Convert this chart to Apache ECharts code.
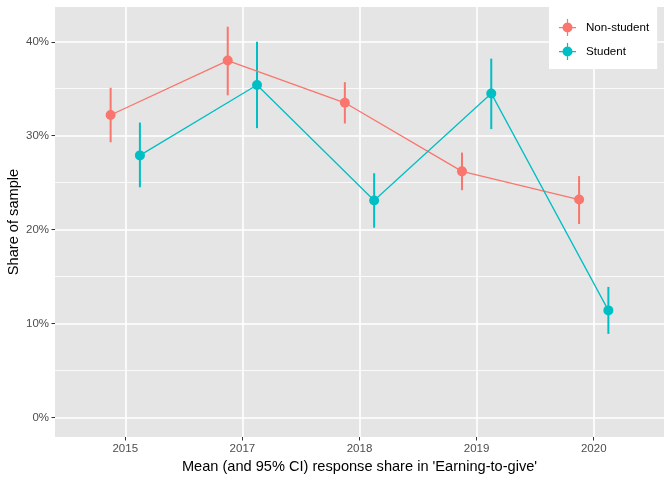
<!DOCTYPE html>
<html>
<head>
<meta charset="utf-8">
<script src="https://cdn.jsdelivr.net/npm/echarts@6/dist/echarts.min.js"></script>
<style>html,body{margin:0;padding:0;background:#fff}#c{width:672px;height:480px}</style>
</head>
<body>
<div id="c"></div>
<script>
const categories = ['2015', '2017', '2018', '2019', '2020'];
const nonStudentMean = [0.322, 0.380, 0.335, 0.262, 0.232];
const nonStudentLow  = [0.293, 0.343, 0.313, 0.242, 0.206];
const nonStudentHigh = [0.351, 0.416, 0.357, 0.282, 0.257];
const studentMean = [0.279, 0.354, 0.231, 0.345, 0.114];
const studentLow  = [0.245, 0.308, 0.202, 0.307, 0.089];
const studentHigh = [0.314, 0.400, 0.260, 0.382, 0.139];
const yMajor = [0, 0.1, 0.2, 0.3, 0.4];
const yMinor = [0.05, 0.15, 0.25, 0.35];

const FONT = 'Liberation Sans, Arial, Helvetica, sans-serif';
const RED = '#F8766D', TEAL = '#00BFC4';
const DODGE = 0.125;
const catIdx = categories.map((c, i) => i);

function pts(means, off) { return means.map((v, i) => [i + off, v]); }
function bars(lo, hi, off) { return lo.map((v, i) => [i + off, v, hi[i]]); }
function errRender(color) {
  return function (params, api) {
    const x = api.value(0);
    const a = api.coord([x, api.value(1)]);
    const b = api.coord([x, api.value(2)]);
    return { type: 'line', shape: { x1: a[0], y1: a[1], x2: b[0], y2: b[1] },
             style: { stroke: color, lineWidth: 2 } };
  };
}
const icon = 'path://M0,16 L34,16 L34,18.4 L0,18.4 Z M15.8,0 L18.2,0 L18.2,34 L15.8,34 Z M17,7 A10,10 0 1 1 16.99,7 Z';

const chart = echarts.init(document.getElementById('c'), null, { renderer: 'canvas' });
chart.setOption({
  animation: false,
  backgroundColor: '#ffffff',
  textStyle: { fontFamily: FONT },
  grid: { left: 55, right: 8, top: 7, bottom: 43, show: true, backgroundColor: '#E5E5E5', borderWidth: 0,
          containLabel: false, outerBoundsMode: 'none' },
  legend: {
    orient: 'vertical', left: 549, top: 7,
    backgroundColor: '#ffffff', padding: [12, 8, 9, 10],
    itemWidth: 17, itemHeight: 17, itemGap: 7,
    textStyle: { fontFamily: FONT, fontSize: 11.6, color: '#000', padding: [0, 0, 0, 5] },
    data: [
      { name: 'Non-student', icon: icon, itemStyle: { color: RED } },
      { name: 'Student', icon: icon, itemStyle: { color: TEAL } }
    ]
  },
  xAxis: {
    type: 'value', min: -0.6, max: categories.length - 0.4,
    name: "Mean (and 95% CI) response share in 'Earning-to-give'",
    nameLocation: 'middle', nameGap: 22, nameMoveOverlap: false,
    nameTextStyle: { fontFamily: FONT, fontSize: 14.6, color: '#000' },
    axisLine: { show: false, onZero: false },
    axisTick: { show: true, length: 3.5, lineStyle: { color: '#333333', width: 1 }, customValues: catIdx },
    axisLabel: { customValues: catIdx, margin: 6, color: '#4D4D4D', fontSize: 11.5, fontFamily: FONT,
                 formatter: v => categories[Math.round(v)] },
    splitLine: { show: true, lineStyle: { color: '#ffffff', width: 1.6 } }
  },
  yAxis: [{
    type: 'value', min: -0.0208, max: 0.437,
    name: 'Share of sample', nameLocation: 'middle', nameGap: 34, nameMoveOverlap: false,
    nameTextStyle: { fontFamily: FONT, fontSize: 14.6, color: '#000' },
    axisLine: { show: false, onZero: false },
    axisTick: { show: true, length: 3.5, lineStyle: { color: '#333333', width: 1 }, customValues: yMajor },
    axisLabel: { customValues: yMajor, margin: 6, color: '#4D4D4D', fontSize: 11.5, fontFamily: FONT,
                 formatter: v => Math.round(v * 100) + '%' },
    splitLine: { show: true, lineStyle: { color: '#ffffff', width: 1.6 } }
  }, {
    type: 'value', min: -0.0208, max: 0.437, position: 'left',
    axisLine: { show: false, onZero: false },
    axisTick: { show: false, customValues: yMinor },
    axisLabel: { show: false, customValues: yMinor },
    splitLine: { show: true, lineStyle: { color: '#ffffff', width: 0.8 } },
    z: 0
  }],
  series: [
    { name: 'Non-student', type: 'custom', renderItem: errRender(RED), data: bars(nonStudentLow, nonStudentHigh, -DODGE), z: 2, silent: true },
    { name: 'Student', type: 'custom', renderItem: errRender(TEAL), data: bars(studentLow, studentHigh, DODGE), z: 2, silent: true },
    { name: 'Non-student', type: 'line', data: pts(nonStudentMean, -DODGE), color: RED,
      lineStyle: { color: RED, width: 1.3 }, symbol: 'circle', symbolSize: 10, showAllSymbol: true,
      itemStyle: { color: RED }, z: 3 },
    { name: 'Student', type: 'line', data: pts(studentMean, DODGE), color: TEAL,
      lineStyle: { color: TEAL, width: 1.3 }, symbol: 'circle', symbolSize: 10, showAllSymbol: true,
      itemStyle: { color: TEAL }, z: 3 }
  ]
});
</script>
</body>
</html>
